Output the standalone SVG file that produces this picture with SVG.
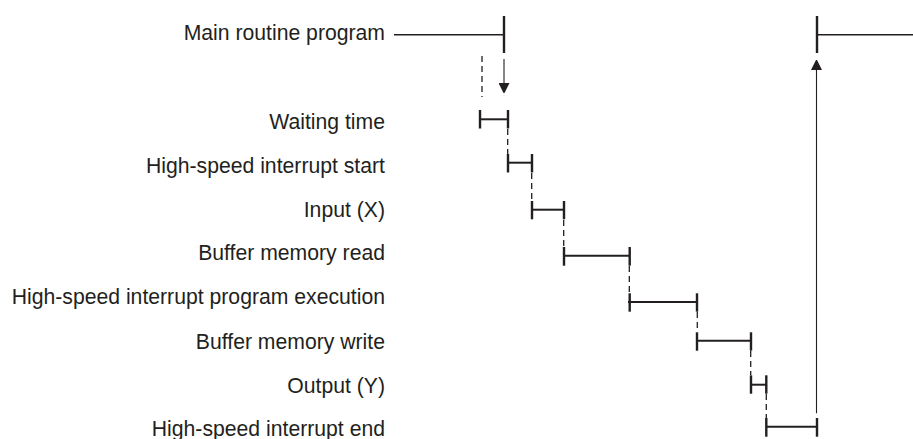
<svg xmlns="http://www.w3.org/2000/svg" width="913" height="439" viewBox="0 0 913 439">
<style>
text{font-family:"Liberation Sans",Arial,sans-serif;font-size:21.2px;fill:#231f20;text-anchor:end}
.bar{stroke:#231f20;stroke-width:2;fill:none}
.tick{stroke:#231f20;stroke-width:2.4;fill:none}
.main{stroke:#231f20;stroke-width:1.4;fill:none}
.dash{stroke:#231f20;stroke-width:1.3;stroke-dasharray:6 4;fill:none}
.arr{stroke:#231f20;stroke-width:1.1;fill:none}
</style>
<defs>
<marker id="ah" viewBox="0 0 10 11" refX="0" refY="5.5" markerWidth="10" markerHeight="11" markerUnits="userSpaceOnUse" orient="auto">
<path d="M0,0 L11,5.5 L0,11 Z" fill="#231f20"/>
</marker>
</defs>
<rect width="913" height="439" fill="#fff"/>
<g id="main-routine">
<text x="385" y="40">Main routine program</text>
<line class="main" x1="394" y1="34.7" x2="504" y2="34.7"/>
<line class="tick" x1="504" y1="16" x2="504" y2="53"/>
<line class="main" x1="817" y1="34.7" x2="913" y2="34.7"/>
<line class="tick" x1="817" y1="16" x2="817" y2="53"/>
</g>
<g id="waiting-time">
<text x="385" y="129.3">Waiting time</text>
<line class="bar" x1="480" y1="119.3" x2="508" y2="119.3"/>
<line class="tick" x1="480" y1="110" x2="480" y2="128.5"/>
<line class="tick" x1="508" y1="110" x2="508" y2="128.5"/>
</g>
<g id="hs-start">
<text x="385" y="173">High-speed interrupt start</text>
<line class="bar" x1="508" y1="162.7" x2="532" y2="162.7"/>
<line class="tick" x1="508" y1="154" x2="508" y2="172.5"/>
<line class="tick" x1="532" y1="154" x2="532" y2="172.5"/>
</g>
<g id="input-x">
<text x="385" y="216.7">Input (X)</text>
<line class="bar" x1="532" y1="209.7" x2="564" y2="209.7"/>
<line class="tick" x1="532" y1="201" x2="532" y2="219.3"/>
<line class="tick" x1="564" y1="201" x2="564" y2="219.3"/>
</g>
<g id="buffer-read">
<text x="385" y="260">Buffer memory read</text>
<line class="bar" x1="564" y1="255.7" x2="629.7" y2="255.7"/>
<line class="tick" x1="564" y1="247" x2="564" y2="265.7"/>
<line class="tick" x1="629.7" y1="247" x2="629.7" y2="265.7"/>
</g>
<g id="hs-exec">
<text x="385" y="304">High-speed interrupt program execution</text>
<line class="bar" x1="628" y1="302" x2="697" y2="302"/>
<line class="tick" x1="629.7" y1="293.3" x2="629.7" y2="311.7"/>
<line class="tick" x1="697" y1="293.3" x2="697" y2="311.7"/>
</g>
<g id="buffer-write">
<text x="385" y="348.5">Buffer memory write</text>
<line class="bar" x1="697" y1="340.7" x2="751" y2="340.7"/>
<line class="tick" x1="697" y1="332.3" x2="697" y2="350.7"/>
<line class="tick" x1="751" y1="332.3" x2="751" y2="350.7"/>
</g>
<g id="output-y">
<text x="385" y="392.5">Output (Y)</text>
<line class="bar" x1="751" y1="384.7" x2="766.3" y2="384.7"/>
<line class="tick" x1="751" y1="375.3" x2="751" y2="393.7"/>
<line class="tick" x1="766.3" y1="375.3" x2="766.3" y2="393.7"/>
</g>
<g id="hs-end">
<text x="385" y="435.5">High-speed interrupt end</text>
<line class="bar" x1="766.3" y1="426.7" x2="817" y2="426.7"/>
<line class="tick" x1="766.3" y1="418" x2="766.3" y2="436.7"/>
<line class="tick" x1="817" y1="418" x2="817" y2="436.7"/>
</g>
<g id="connectors">
<line class="arr" x1="504" y1="59" x2="504" y2="83" marker-end="url(#ah)"/>
<line class="arr" x1="816.5" y1="413.3" x2="816.5" y2="70" marker-end="url(#ah)"/>
<line class="dash" x1="482" y1="56" x2="482" y2="97"/>
<line class="dash" x1="507.7" y1="129" x2="507.7" y2="154"/>
<line class="dash" x1="531.7" y1="173" x2="531.7" y2="201"/>
<line class="dash" x1="563.7" y1="220" x2="563.7" y2="247"/>
<line class="dash" x1="629.3" y1="266" x2="629.3" y2="293"/>
<line class="dash" x1="697.3" y1="312" x2="697.3" y2="332"/>
<line class="dash" x1="750.7" y1="351" x2="750.7" y2="375"/>
<line class="dash" x1="766.3" y1="394" x2="766.3" y2="418"/>
</g>
</svg>
